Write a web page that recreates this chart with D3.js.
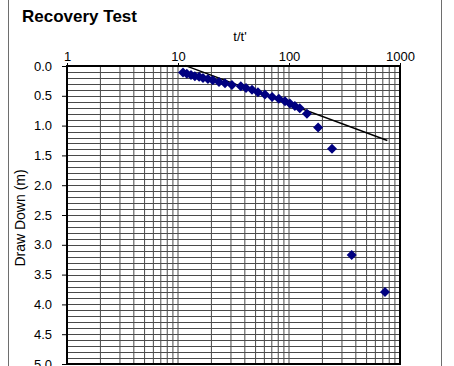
<!DOCTYPE html>
<html><head><meta charset="utf-8">
<script src="https://cdn.jsdelivr.net/npm/d3@7/dist/d3.min.js"></script>
<style>body{margin:0;background:#fff;}svg{display:block;font-family:Arial,"Liberation Sans",sans-serif;}</style>
</head><body>
<svg id="c" width="454" height="366"></svg>
<script>
const title = "Recovery Test";
const xTitle = "t/t'";
const yTitle = "Draw Down (m)";
const xTickValues = [1, 10, 100, 1000];
const yTickValues = [0, 0.5, 1, 1.5, 2, 2.5, 3, 3.5, 4, 4.5, 5];
const ratioTT = [11.1, 12.0, 13.1, 14.2, 15.5, 16.8, 18.6, 20.6, 23.4, 26.5, 30.6, 36.8, 41, 46.4, 52.5, 60.7, 70.5, 81, 92, 101.8, 113, 125, 145, 183, 244, 367, 733];
const drawDown = [0.11, 0.13, 0.15, 0.17, 0.18, 0.20, 0.22, 0.24, 0.27, 0.29, 0.32, 0.34, 0.37, 0.40, 0.44, 0.48, 0.52, 0.55, 0.59, 0.63, 0.67, 0.71, 0.80, 1.03, 1.39, 3.17, 3.79];
const fitX = [11.5, 769];
const fitY = [-0.01, 1.25];

const FONT = "Arial, 'Liberation Sans', sans-serif";
const svg = d3.select("#c");
const L = 67, R = 400, T = 66, B = 364;
const x = d3.scaleLog().domain([1, 1000]).range([L, R]);
const y = d3.scaleLinear().domain([0, 5]).range([T, B]);

// outer frame
svg.append("rect").attr("x", 8.5).attr("y", -2).attr("width", 433).attr("height", 372)
  .attr("fill", "none").attr("stroke", "#6e6e6e").attr("stroke-width", 1);

svg.append("text").attr("x", 22).attr("y", 22).attr("font-size", 17).attr("font-weight", "bold").text(title);

// grid
const g = svg.append("g");
const vGrid = [];
for (let d = 1; d < 1000; d *= 10) for (let m = 1; m <= 9; m++) if (!(m === 1 && d === 1)) vGrid.push(m * d);
g.selectAll("line.v").data(vGrid).join("line")
  .attr("x1", d => x(d)).attr("x2", d => x(d)).attr("y1", T).attr("y2", B)
  .attr("stroke", "#4a4a4a").attr("stroke-width", 1);
const hGrid = d3.range(1, 50).map(i => i / 10);
g.selectAll("line.h").data(hGrid).join("line")
  .attr("x1", L).attr("x2", R).attr("y1", d => Math.round(y(d)) + 0.5).attr("y2", d => Math.round(y(d)) + 0.5)
  .attr("stroke", "#4a4a4a").attr("stroke-width", 1);

// axes
const xAxis = d3.axisTop(x).tickValues(xTickValues).tickFormat(d3.format("d")).tickSize(3).tickPadding(2);
const xg = svg.append("g").attr("transform", `translate(0,${T})`).call(xAxis);
xg.select(".domain").remove();
xg.selectAll("text").attr("font-size", 13).attr("font-family", FONT).attr("fill", "#000");
xg.selectAll("line").attr("stroke", "#000");

const yAxis = d3.axisLeft(y).tickValues(yTickValues).tickFormat(d3.format(".1f")).tickSize(5).tickPadding(10);
const yg = svg.append("g").attr("transform", `translate(${L},0)`).call(yAxis);
yg.select(".domain").remove();
yg.selectAll("text").attr("font-size", 13).attr("font-family", FONT).attr("fill", "#000");
yg.selectAll("line").attr("stroke", "#000");

// plot border
svg.append("rect").attr("x", L).attr("y", T).attr("width", R - L).attr("height", B - T)
  .attr("fill", "none").attr("stroke", "#000").attr("stroke-width", 2);

svg.append("text").attr("x", 240).attr("y", 41).attr("text-anchor", "middle").attr("font-size", 13).text(xTitle);
svg.append("text").attr("transform", `translate(25,${(T + B) / 2 + 3}) rotate(-90)`)
  .attr("text-anchor", "middle").attr("font-size", 14).text(yTitle);

// fit line
const fit = fitX.map((v, i) => [v, fitY[i]]);
svg.append("path").datum(fit)
  .attr("d", d3.line().x(d => x(d[0])).y(d => y(d[1])))
  .attr("stroke", "#000").attr("stroke-width", 1.5).attr("fill", "none");

// points
const pts = ratioTT.map((v, i) => [v, drawDown[i]]);
svg.append("g").selectAll("path").data(pts).join("path")
  .attr("transform", d => `translate(${x(d[0])},${y(d[1])})`)
  .attr("d", "M0,-5L5,0L0,5L-5,0Z")
  .attr("fill", "#000080");
</script>
</body></html>
